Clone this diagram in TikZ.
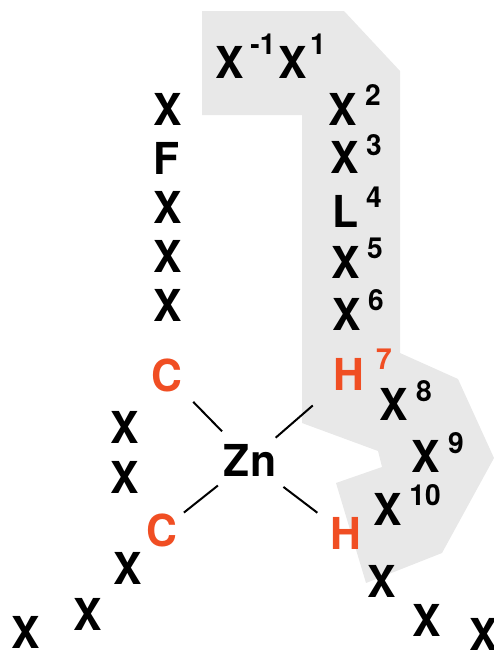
\documentclass[tikz,border=0pt]{standalone}
\usepackage{fontspec}
\setmainfont[FakeStretch=0.97]{TeX Gyre Heros}
\usetikzlibrary{calc}
\definecolor{color_patch_bg}{HTML}{E8E8E8}
\definecolor{color_ligand}{HTML}{F04E23}
\def\bondlinewidth{2pt}
\def\residuesize{\fontsize{44}{44}\selectfont\bfseries}
\def\numbersize{\fontsize{29}{29}\selectfont\bfseries}
\tikzset{
    residue/.style={inner sep=0pt,font=\residuesize},
    ligand/.style={residue,text=color_ligand},
    number/.style={inner sep=0pt,font=\numbersize},
    bond/.style={line width=\bondlinewidth}
}
\begin{document}
\begin{tikzpicture}[x=1pt,y=-1pt]
        \useasboundingbox (0,0) rectangle (494,651);
        % the shaded stretch of the chain
        \fill[color_patch_bg] (202,11) -- (344,11) -- (400,71) -- (400,353) -- (458,379) -- (494,458)
            -- (442,553) -- (366,583) -- (336,483) -- (382,467) -- (378,451) -- (302,423) -- (302,115) -- (202,115) -- cycle;
        % plain residues
        \foreach \name/\x/\y in {xa/168/109,xb/168/207,xc/168/256,xd/168/305,xe/125/427,xf/125/477,xg/128/568,xh/88/614,xi/26/632,
            xm/230/62,xn/293/62,xo/343/109,xp/345/157,xq/346/262,xr/347/314,xs/394/404,xt/426/456,xu/388/509,
            xv/382/581,xw/427/620,xy/484/634}
            \node[residue] (\name) at (\x,\y) {X};
        \node[residue] (fa) at (167,158) {F};
        \node[residue] (la) at (346,211) {L};
        \node[residue] (zn) at (250,460) {Zn};
        % the four ligands
        \node[ligand] (ctop) at (167,375) {C};
        \node[ligand] (cbot) at (162,530) {C};
        \node[ligand] (htop) at (349,374) {H};
        \node[ligand] (hbot) at (346,533) {H};
        % numbering
        \foreach \name/\x/\y/\t in {nb/318/44/1,nc/373/95/2,nd/374/145/3,ne/374/197/4,nf/375/248/5,ng/376/300/6,
            ni/424/391/8,nj/456/443/9,nk/425/495/10,na/263/44/-1}
            \node[number] (\name) at (\x,\y) {\t};
        \node[number,text=color_ligand] (nh) at (384,359) {7};
        % bonds to the metal
        \draw[bond,shorten <=40pt,shorten >=37.5pt] (zn.center) -- (ctop.center);
        \draw[bond,shorten <=41pt,shorten >=28pt] (zn.center) -- (cbot.center);
        \draw[bond,shorten <=34pt,shorten >=48pt] (zn.center) -- (htop.center);
        \draw[bond,shorten <=42pt,shorten >=36pt] ([yshift=-1.5pt]zn.center) -- ([yshift=-1.5pt]hbot.center);
    \end{tikzpicture}
\end{document}
